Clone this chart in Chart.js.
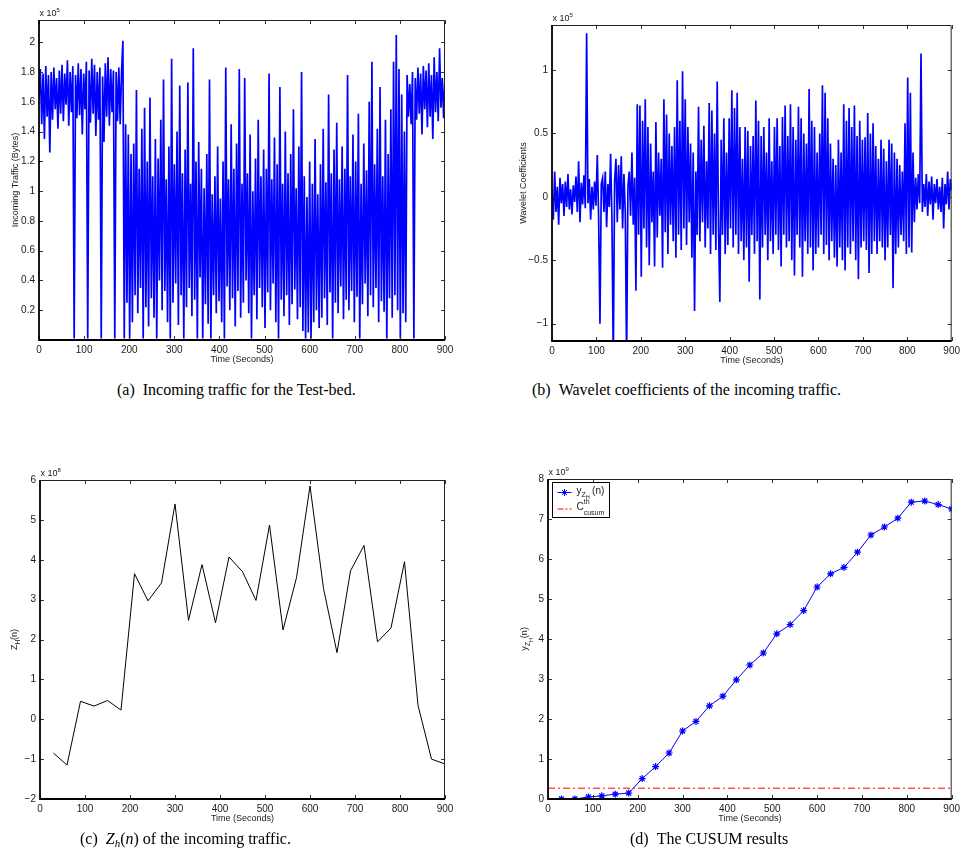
<!DOCTYPE html>
<html>
<head>
<meta charset="utf-8">
<script src="https://cdn.jsdelivr.net/npm/chart.js@4.4.0/dist/chart.umd.min.js"></script>
<style>
  body { margin: 0; background: #fff; width: 964px; height: 862px; position: relative; overflow: hidden; }
  canvas { position: absolute; }
  .cap { position: absolute; font-family: "Liberation Serif", "Times New Roman", serif; font-size: 16px; line-height: 18px; color: #000; white-space: nowrap; }
  .cap sub { font-size: 11px; line-height: 0; vertical-align: -3px; font-style: italic; }
</style>
</head>
<body>
<canvas id="trafficChart" width="480" height="380" style="left:0;top:0"></canvas>
<canvas id="waveletChart" width="484" height="380" style="left:480px;top:0"></canvas>
<canvas id="zhChart" width="480" height="380" style="left:0;top:460px"></canvas>
<canvas id="cusumChart" width="484" height="380" style="left:480px;top:460px"></canvas>

<div class="cap" style="left:117px;top:381px">(a)&nbsp;&nbsp;Incoming traffic for the Test-bed.</div>
<div class="cap" style="left:532px;top:381px">(b)&nbsp;&nbsp;Wavelet coefficients of the incoming traffic.</div>
<div class="cap" style="left:80px;top:830px">(c)&nbsp;&nbsp;<i>Z</i><sub>h</sub>(<i>n</i>) of the incoming traffic.</div>
<div class="cap" style="left:630px;top:830px">(d)&nbsp;&nbsp;The CUSUM results</div>

<script>
// sample spacing (seconds) of the traffic / wavelet traces
const sampleStep = 3;

// incoming traffic, x 10^5 bytes, one value every 3 s from 0 to 900
const traffic = [
  1.62, 1.82, 1.45, 1.79, 1.35, 1.84, 1.50, 1.78, 1.26, 1.80,
  1.48, 1.83, 1.55, 1.76, 1.42, 1.81, 1.52, 1.85, 1.47, 1.79,
  1.58, 1.88, 1.44, 1.80, 1.53, 1.84, 0.01, 1.78, 1.49, 1.86,
  1.51, 1.82, 1.38, 1.79, 1.55, 1.87, 0.01, 1.81, 1.46, 1.89,
  1.52, 1.85, 1.37, 1.80, 1.48, 1.83, 0.01, 1.77, 1.33, 1.86,
  1.50, 1.90, 1.44, 1.82, 1.53, 1.81, 0.01, 1.80, 1.47, 1.83,
  1.45, 1.80, 2.01, 0.01, 1.45, 0.25, 1.38, 0.01, 1.25, 0.12,
  1.32, 0.30, 1.68, 0.18, 1.15, 0.35, 1.42, 0.01, 1.56, 0.22,
  1.20, 0.09, 1.63, 0.28, 1.10, 0.15, 1.35, 0.01, 1.22, 0.40,
  1.48, 0.20, 1.75, 0.33, 1.08, 0.12, 1.30, 0.01, 1.89, 0.25,
  1.18, 0.38, 1.40, 0.10, 1.71, 0.30, 1.12, 0.01, 1.28, 0.22,
  1.73, 0.35, 1.05, 0.16, 1.96, 0.27, 1.20, 0.01, 1.33, 0.42,
  1.15, 0.01, 1.02, 0.24, 1.25, 0.11, 1.75, 0.01, 0.98, 0.30,
  1.10, 0.18, 1.30, 0.26, 0.95, 0.12, 1.20, 0.01, 1.83, 0.36,
  1.08, 0.20, 1.45, 0.28, 1.15, 0.09, 1.32, 0.33, 1.82, 0.15,
  1.05, 0.25, 1.76, 0.40, 1.12, 0.18, 1.38, 0.01, 1.00, 0.30,
  1.22, 0.14, 1.48, 0.35, 1.10, 0.22, 1.28, 0.08, 1.15, 0.32,
  1.79, 0.20, 1.08, 0.38, 1.36, 0.12, 1.18, 0.01, 1.70, 0.27,
  1.05, 0.16, 1.40, 0.30, 1.12, 0.10, 1.25, 0.24, 1.55, 0.34,
  1.02, 0.14, 1.30, 0.22, 1.80, 0.06, 1.10, 0.01, 0.96, 0.05,
  1.20, 0.01, 1.05, 0.12, 1.35, 0.20, 0.98, 0.08, 1.18, 0.15,
  1.42, 0.28, 1.06, 0.10, 1.65, 0.32, 1.12, 0.01, 1.28, 0.25,
  1.46, 0.18, 1.08, 0.36, 1.30, 0.14, 1.15, 0.27, 1.78, 0.20,
  1.10, 0.33, 1.38, 0.12, 1.20, 0.29, 1.52, 0.01, 1.05, 0.24,
  1.32, 0.38, 1.14, 0.16, 1.60, 0.30, 1.87, 0.22, 1.18, 0.35,
  1.42, 0.12, 1.70, 0.26, 1.10, 0.19, 1.48, 0.01, 1.25, 0.28,
  1.55, 0.15, 1.87, 0.30, 2.05, 0.20, 1.82, 0.01, 1.65, 0.18,
  1.40, 0.12, 1.78, 1.50, 1.72, 1.45, 1.80, 0.01, 1.76, 1.48,
  1.83, 1.52, 1.79, 1.38, 1.84, 1.55, 1.81, 1.43, 1.86, 1.50,
  1.78, 1.35, 1.90, 1.53, 1.80, 1.47, 1.96, 1.56, 1.76, 1.49,
  1.77
];

// wavelet coefficients, x 10^5, same sampling
const wavelet = [
  0.05, -0.18, 0.20, -0.12, 0.08, -0.22, 0.15, -0.05, 0.10, -0.15,
  0.12, -0.08, 0.18, -0.10, 0.06, -0.14, 0.09, -0.04, 0.16, -0.12,
  0.28, -0.20, 0.11, -0.06, 0.17, -0.09, 1.29, -0.05, 0.14, -0.18,
  0.08, -0.10, 0.12, -0.07, 0.33, -0.16, -1.00, 0.10, 0.15, -0.12,
  0.20, -0.24, 0.10, -0.08, 0.34, -0.18, -1.30, 0.12, 0.30, -0.20,
  0.25, -0.10, 0.32, -0.25, 0.18, -0.12, -1.30, 0.08, 0.20, -0.15,
  0.35, -0.22, 0.15, -0.74, 0.73, -0.30, 0.72, -0.63, 0.60, -0.25,
  0.77, -0.40, 0.55, -0.54, 0.42, -0.20, 0.20, -0.55, 0.59, -0.32,
  0.35, -0.15, 0.30, -0.56, 0.77, -0.28, 0.65, -0.45, 0.50, -0.22,
  0.40, -0.35, 0.55, -0.48, 0.92, -0.30, 0.60, -0.42, 0.99, -0.25,
  0.77, -0.38, 0.55, -0.20, 0.42, -0.48, 0.35, -0.90, 0.20, -0.30,
  0.71, -0.35, 0.45, -0.20, 0.56, -0.40, 0.28, -0.25, 0.74, -0.45,
  0.68, -0.30, 0.50, -0.42, 0.91, -0.25, -0.83, 0.45, -0.30, 0.62,
  -0.45, 0.35, -0.38, 0.62, -0.25, 0.84, -0.40, 0.70, -0.30, 0.82,
  -0.45, 0.55, -0.35, 0.30, -0.50, 0.55, -0.40, 0.52, -0.67, 0.40,
  -0.30, 0.48, -0.45, 0.76, -0.35, 0.60, -0.81, 0.48, -0.40, 0.55,
  -0.30, 0.35, -0.50, 0.62, -0.35, 0.28, -0.45, 0.55, -0.30, 0.62,
  -0.42, 0.40, -0.55, 0.63, -0.30, 0.72, -0.40, 0.48, -0.35, 0.73,
  -0.50, 0.55, -0.62, 0.45, -0.30, 0.71, -0.40, 0.62, -0.63, 0.50,
  -0.35, 0.42, -0.45, 0.85, -0.40, 0.60, -0.58, 0.55, -0.45, 0.35,
  -0.40, 0.50, -0.30, 0.88, -0.45, 0.82, -0.38, 0.62, -0.50, 0.42,
  -0.35, 0.30, -0.48, 0.25, -0.55, 0.45, -0.40, 0.35, -0.50, 0.73,
  -0.58, 0.60, -0.40, 0.70, -0.45, 0.55, -0.35, 0.72, -0.50, 0.48,
  -0.65, 0.60, -0.40, 0.45, -0.35, 0.47, -0.42, 0.66, -0.60, 0.50,
  -0.45, 0.58, -0.35, 0.40, -0.45, 0.30, -0.35, 0.45, -0.40, 0.38,
  -0.50, 0.28, -0.40, 0.45, -0.30, 0.42, -0.72, 0.35, -0.45, 0.30,
  -0.40, 0.25, -0.30, 0.20, -0.35, 0.58, -0.45, 0.94, -0.40, 0.82,
  -0.44, 0.35, -0.20, 0.15, -0.10, 0.18, -0.05, 1.13, -0.12, 0.10,
  -0.08, 0.18, -0.15, 0.12, -0.06, 0.16, -0.18, 0.10, -0.05, 0.14,
  -0.10, 0.08, -0.12, 0.15, -0.25, 0.10, -0.06, 0.20, -0.10, 0.14,
  0.05
];

// 30 s windows
const windowTimes = [30, 60, 90, 120, 150, 180, 210, 240, 270, 300, 330, 360, 390, 420, 450,
  480, 510, 540, 570, 600, 630, 660, 690, 720, 750, 780, 810, 840, 870, 900];
// Z_H(n), x 10^8
const zh = [-0.85, -1.15, 0.45, 0.33, 0.47, 0.23, 3.65, 2.97, 3.42, 5.40, 2.48, 3.88, 2.42, 4.07, 3.70,
  2.98, 4.87, 2.24, 3.55, 5.85, 3.28, 1.67, 3.72, 4.36, 1.94, 2.29, 3.95, 0.35, -1.00, -1.12];
// y_ZH(n), x 10^9
const cusum = [0.00, 0.00, 0.05, 0.08, 0.12, 0.15, 0.51, 0.81, 1.15, 1.70, 1.94, 2.33, 2.57, 2.98, 3.35,
  3.65, 4.13, 4.36, 4.71, 5.30, 5.63, 5.79, 6.17, 6.60, 6.80, 7.02, 7.42, 7.45, 7.36, 7.25];
const cusumThreshold = 0.27;
const thresholdSpan = [0, 900];

// axis ticks
const timeTicks = [0, 100, 200, 300, 400, 500, 600, 700, 800, 900];
const trafficTicks = [0.2, 0.4, 0.6, 0.8, 1, 1.2, 1.4, 1.6, 1.8, 2];
const waveletTicks = [-1, -0.5, 0, 0.5, 1];
const zhTicks = [-2, -1, 0, 1, 2, 3, 4, 5, 6];
const cusumTicks = [0, 1, 2, 3, 4, 5, 6, 7, 8];

const SANS = '"Liberation Sans", Arial, sans-serif';
Chart.defaults.font.family = SANS;
Chart.defaults.font.size = 10;
Chart.defaults.color = '#1a1a1a';

function fmtTick(v) {
    return String(+v.toFixed(2)).replace('-', '\u2212');
}

// draw a run of [text, size, dy] pieces, left to right
function textRun(ctx, parts, x, y) {
    for (const [t, size, dy] of parts) {
        ctx.font = size + 'px ' + SANS;
        ctx.fillText(t, x, y + dy);
        x += ctx.measureText(t).width;
    }
    return x;
}

function runWidth(ctx, parts) {
    let w = 0;
    for (const [t, size] of parts) {
        ctx.font = size + 'px ' + SANS;
        w += ctx.measureText(t).width;
    }
    return w;
}

// matlab style box, inward ticks, labels and exponent
const matlabAxes = {
    id: 'matlabAxes',
    afterDraw(chart, args, o) {
        const {ctx, chartArea: a, scales: {x, y}} = chart;
        ctx.save();
        ctx.strokeStyle = '#333';
        ctx.lineWidth = 1;
        ctx.beginPath();
        x.ticks.forEach(t => {
            const px = Math.round(x.getPixelForValue(t.value)) + 0.5;
            ctx.moveTo(px, a.bottom); ctx.lineTo(px, a.bottom - 4);
            ctx.moveTo(px, a.top); ctx.lineTo(px, a.top + 4);
        });
        y.ticks.forEach(t => {
            const py = Math.round(y.getPixelForValue(t.value)) + 0.5;
            ctx.moveTo(a.left, py); ctx.lineTo(a.left + 4, py);
            ctx.moveTo(a.right, py); ctx.lineTo(a.right - 4, py);
        });
        ctx.stroke();

        ctx.strokeStyle = '#222';
        ctx.beginPath();
        ctx.moveTo(a.left, a.top + 0.5); ctx.lineTo(a.right - 0.5, a.top + 0.5); ctx.lineTo(a.right - 0.5, a.bottom);
        ctx.stroke();
        ctx.strokeStyle = '#000';
        ctx.lineWidth = 1.8;
        ctx.beginPath();
        ctx.moveTo(a.left, a.top); ctx.lineTo(a.left, a.bottom); ctx.lineTo(a.right, a.bottom);
        ctx.stroke();

        ctx.fillStyle = '#1a1a1a';
        ctx.textBaseline = 'alphabetic';
        ctx.textAlign = 'left';
        textRun(ctx, [['x 10', 9, 0], [o.exp, 6, -4]], a.left + 0.5, a.top - 4);

        const xw = runWidth(ctx, [['Time (Seconds)', 9, 0]]);
        textRun(ctx, [['Time (Seconds)', 9, 0]], (a.left + a.right) / 2 - xw / 2, a.bottom + 22);

        ctx.save();
        ctx.translate(o.ylabelX, (a.top + a.bottom) / 2);
        ctx.rotate(-Math.PI / 2);
        textRun(ctx, o.ylabel, -runWidth(ctx, o.ylabel) / 2, 0);
        ctx.restore();

        if (o.legend) {
            const lx = a.left + 4.5, ly = a.top + 3.5;
            ctx.fillStyle = '#fff';
            ctx.fillRect(lx, ly, 57, 35);
            ctx.strokeStyle = '#000';
            ctx.lineWidth = 1;
            ctx.strokeRect(lx, ly, 57, 35);

            ctx.strokeStyle = '#0000ff';
            ctx.fillStyle = '#0000ff';
            ctx.beginPath();
            ctx.moveTo(lx + 5, ly + 10); ctx.lineTo(lx + 19, ly + 10);
            ctx.stroke();
            Chart.helpers.drawPoint(ctx, {pointStyle: 'star', radius: 3.5, borderWidth: 1.2, rotation: 0}, lx + 12, ly + 10);

            ctx.strokeStyle = '#ff0000';
            ctx.setLineDash([6, 2, 2, 2]);
            ctx.beginPath();
            ctx.moveTo(lx + 5, ly + 26.5); ctx.lineTo(lx + 19, ly + 26.5);
            ctx.stroke();
            ctx.setLineDash([]);

            ctx.fillStyle = '#1a1a1a';
            const ex = textRun(ctx, [['y', 10, 0], ['Z', 7, 3]], lx + 24, ly + 11);
            textRun(ctx, [['H', 5.5, 0]], ex, ly + 16.5);
            textRun(ctx, [[' (n)', 10, 0]], ex + 3.5, ly + 11);
            const cx = textRun(ctx, [['C', 10, 0]], lx + 24, ly + 27);
            textRun(ctx, [['th', 7, 0]], cx, ly + 21);
            textRun(ctx, [['cusum', 7, 0]], cx, ly + 32);
        }
        ctx.restore();
    }
};

function createChartConfig(datasets, p) {
    return {
        type: 'line',
        data: { datasets: datasets },
        options: {
            responsive: false,
            animation: false,
            events: [],
            layout: { padding: { left: 0, top: p.top, right: p.right, bottom: 0 } },
            plugins: {
                legend: { display: false },
                tooltip: { enabled: false },
                matlabAxes: p.axes
            },
            scales: {
                x: {
                    type: 'linear',
                    min: 0,
                    max: 900,
                    grid: { display: false, drawTicks: false },
                    border: { display: false },
                    ticks: { padding: 4, autoSkip: false, maxRotation: 0, callback: fmtTick },
                    afterBuildTicks: s => { s.ticks = timeTicks.map(v => ({ value: v })); },
                    afterFit: s => { s.height = p.xh; }
                },
                y: {
                    type: 'linear',
                    min: p.ymin,
                    max: p.ymax,
                    grid: { display: false, drawTicks: false },
                    border: { display: false },
                    ticks: { padding: 4, autoSkip: false, callback: fmtTick },
                    afterBuildTicks: s => { s.ticks = p.yticks.map(v => ({ value: v })); },
                    afterFit: s => { s.width = p.yw; }
                }
            }
        },
        plugins: [matlabAxes]
    };
}

function traceDataset(values, color) {
    return {
        data: values.map((v, i) => ({ x: i * sampleStep, y: v })),
        borderColor: color,
        borderWidth: 1.7,
        pointRadius: 0,
        tension: 0
    };
}

const trafficChart = new Chart(document.getElementById('trafficChart'), createChartConfig(
    [traceDataset(traffic, '#0000ff')],
    { top: 20, right: 35, xh: 40, yw: 39, ymin: 0, ymax: 2.15, yticks: trafficTicks,
      axes: { exp: '5', ylabelX: 18, ylabel: [['Incoming Traffic (Bytes)', 9, 0]] } }
));

const waveletChart = new Chart(document.getElementById('waveletChart'), createChartConfig(
    [traceDataset(wavelet, '#0000ff')],
    { top: 25, right: 10, xh: 39, yw: 72, ymin: -1.137, ymax: 1.355, yticks: waveletTicks,
      axes: { exp: '5', ylabelX: 46, ylabel: [['Wavelet Coefficients', 9, 0]] } }
));

const zhChart = new Chart(document.getElementById('zhChart'), createChartConfig(
    [{
        data: windowTimes.map((t, i) => ({ x: t, y: zh[i] })),
        borderColor: '#000',
        borderWidth: 1,
        pointRadius: 0,
        tension: 0
    }],
    { top: 20, right: 35, xh: 41, yw: 40, ymin: -2, ymax: 6, yticks: zhTicks,
      axes: { exp: '8', ylabelX: 17, ylabel: [['Z', 9, 0], ['H', 6.5, 2.5], ['(n)', 9, 0]] } }
));

const cusumChart = new Chart(document.getElementById('cusumChart'), createChartConfig(
    [{
        data: thresholdSpan.map(t => ({ x: t, y: cusumThreshold })),
        borderColor: '#ff0000',
        borderWidth: 1,
        borderDash: [7, 3, 2, 3],
        pointRadius: 0
    }, {
        data: windowTimes.map((t, i) => ({ x: t, y: cusum[i] })),
        borderColor: '#0000ff',
        backgroundColor: '#0000ff',
        borderWidth: 1,
        pointStyle: 'star',
        pointRadius: 3.5,
        pointBorderWidth: 1.2,
        pointBorderColor: '#0000ff',
        tension: 0
    }],
    { top: 19, right: 10, xh: 41, yw: 68, ymin: 0, ymax: 8, yticks: cusumTicks,
      axes: { exp: '9', ylabelX: 47, legend: true,
              ylabel: [['y', 9, 0], ['Z', 7, 3], ['H', 5.5, 5.5], ['(n)', 9, 0]] } }
));
</script>
</body>
</html>
